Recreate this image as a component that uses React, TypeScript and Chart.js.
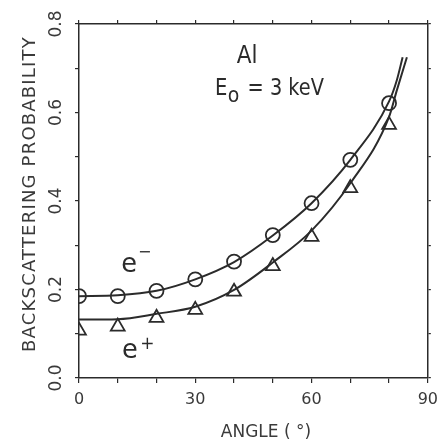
import { useEffect, useRef } from "react";
import { Chart, registerables } from "chart.js";

Chart.register(...registerables);

// Measured backscattering probabilities at each angle of incidence (degrees)
const angles = [0, 10, 20, 30, 40, 50, 60, 70, 80];
const electronMeasured = [0.185, 0.185, 0.197, 0.223, 0.263, 0.323, 0.395, 0.493, 0.621];
const positronMeasured = [0.107, 0.116, 0.136, 0.154, 0.195, 0.253, 0.319, 0.429, 0.572];

// Smooth curves drawn through the measurements
const electronCurveAngles = [0, 10, 20, 30, 40, 50, 60, 70, 80, 82, 83.5];
const electronCurve = [0.185, 0.187, 0.197, 0.223, 0.262, 0.322, 0.395, 0.493, 0.625, 0.673, 0.725];
const positronCurveAngles = [0, 10, 20, 30, 40, 50, 60, 70, 80, 82, 84.6];
const positronCurve = [0.132, 0.133, 0.145, 0.161, 0.199, 0.261, 0.333, 0.44, 0.59, 0.65, 0.725];

const xTickLabels = ["0", "30", "60", "90"];
const yTickLabels = ["0.0", "0.2", "0.4", "0.6", "0.8"];

const INK = "#2b2b2b";
const TEXT = "#3a3a3a";
const FONT = "'DejaVu Sans', 'Noto Sans', sans-serif";

const pairs = (xs: number[], ys: number[]) => xs.map((x, i) => ({ x, y: ys[i] }));

function drawText(
  ctx: CanvasRenderingContext2D,
  text: string,
  px: number,
  py: number,
  size: number,
  opts: { sx?: number; align?: CanvasTextAlign; baseline?: CanvasTextBaseline; spacing?: string; color?: string } = {}
) {
  ctx.save();
  ctx.font = `${size}px ${FONT}`;
  ctx.fillStyle = opts.color ?? INK;
  ctx.textAlign = opts.align ?? "left";
  ctx.textBaseline = opts.baseline ?? "alphabetic";
  if (opts.spacing) (ctx as any).letterSpacing = opts.spacing;
  ctx.translate(px, py);
  ctx.scale(opts.sx ?? 1, 1);
  ctx.fillText(text, 0, 0);
  ctx.restore();
}

// Axis titles and in-plot labels
const labelsPlugin = {
  id: "plotLabels",
  afterDraw(chart: any) {
    const ctx: CanvasRenderingContext2D = chart.ctx;
    const xs = chart.scales.x;
    const ys = chart.scales.y;
    const px = (v: number) => xs.getPixelForValue(v);
    const py = (v: number) => ys.getPixelForValue(v);

    // y-axis title, reading bottom to top
    ctx.save();
    ctx.translate(35, 194);
    ctx.rotate(-Math.PI / 2);
    ctx.font = `18px ${FONT}`;
    ctx.fillStyle = TEXT;
    ctx.textAlign = "center";
    ctx.textBaseline = "alphabetic";
    (ctx as any).letterSpacing = "1.2px";
    ctx.fillText("BACKSCATTERING PROBABILITY", 0, 0);
    ctx.restore();

    // x-axis title
    drawText(ctx, "ANGLE ( °)", 266, 437, 17, { align: "center", color: TEXT });

    // target and beam energy
    drawText(ctx, "Al", px(40.7), py(0.712), 24, { sx: 0.9 });
    drawText(ctx, "E", px(35.1), py(0.6395), 23, { sx: 0.85 });
    drawText(ctx, "o", px(38.4), py(0.624), 21, { sx: 0.9 });
    drawText(ctx, "= 3 keV", px(43.5), py(0.6395), 23, { sx: 0.84 });

    // particle labels
    drawText(ctx, "e", px(10.9), py(0.2395), 27, { sx: 0.95 });
    drawText(ctx, "−", px(15.2), py(0.2825), 16, { baseline: "middle" });
    drawText(ctx, "e", px(11.1), py(0.045), 27, { sx: 0.95 });
    drawText(ctx, "+", px(15.8), py(0.0746), 17, { baseline: "middle" });
  },
};

export default function App() {
  const canvasRef = useRef<HTMLCanvasElement | null>(null);

  useEffect(() => {
    if (!canvasRef.current) return;

    const frame = {
      border: { display: true, color: INK, width: 1.5 },
    };
    const gridTicks = (len: number) => ({
      drawOnChartArea: false,
      drawTicks: true,
      tickLength: len,
      color: INK,
      lineWidth: 1.2,
    });

    const chart = new Chart(canvasRef.current, {
      type: "scatter",
      data: {
        datasets: [
          {
            label: "e- curve",
            type: "line",
            data: pairs(electronCurveAngles, electronCurve),
            borderColor: INK,
            borderWidth: 2,
            pointRadius: 0,
            cubicInterpolationMode: "monotone",
            fill: false,
          },
          {
            label: "e+ curve",
            type: "line",
            data: pairs(positronCurveAngles, positronCurve),
            borderColor: INK,
            borderWidth: 2,
            pointRadius: 0,
            cubicInterpolationMode: "monotone",
            fill: false,
          },
          {
            label: "e-",
            data: pairs(angles, electronMeasured),
            pointStyle: "circle",
            pointRadius: 7,
            borderColor: INK,
            borderWidth: 1.8,
            backgroundColor: "rgba(0,0,0,0)",
            showLine: false,
          },
          {
            label: "e+",
            data: pairs(angles, positronMeasured),
            pointStyle: "triangle",
            pointRadius: 8,
            borderColor: INK,
            borderWidth: 1.8,
            backgroundColor: "rgba(0,0,0,0)",
            showLine: false,
          },
        ],
      },
      options: {
        animation: false,
        responsive: true,
        maintainAspectRatio: false,
        layout: { padding: { top: 24, right: 10, left: 0, bottom: 0 } },
        plugins: {
          legend: { display: false },
          tooltip: { enabled: false },
        },
        scales: {
          x: {
            type: "linear",
            position: "bottom",
            min: 0,
            max: 90,
            ...frame,
            grid: gridTicks(5),
            ticks: {
              stepSize: 10,
              autoSkip: false,
              maxRotation: 0,
              minRotation: 0,
              padding: 7,
              color: TEXT,
              font: { family: FONT, size: 16 },
              callback: (v: any) => (Number(v) % 30 === 0 ? xTickLabels[Number(v) / 30] : ""),
            },
            afterFit: (s: any) => {
              s.height = 69;
            },
          },
          y: {
            type: "linear",
            position: "left",
            min: 0,
            max: 0.8,
            ...frame,
            grid: gridTicks(4),
            ticks: {
              stepSize: 0.1,
              autoSkip: false,
              minRotation: 90,
              maxRotation: 90,
              crossAlign: "center",
              padding: 5,
              color: TEXT,
              font: { family: FONT, size: 17 },
              callback: (v: any) => {
                const k = Math.round(Number(v) * 10);
                return k % 2 === 0 ? yTickLabels[k / 2] : "";
              },
            },
            afterFit: (s: any) => {
              s.width = 79;
            },
          },
          xTop: {
            type: "linear",
            position: "top",
            min: 0,
            max: 90,
            ...frame,
            grid: gridTicks(4),
            ticks: { stepSize: 10, display: false },
            afterFit: (s: any) => {
              s.height = 0;
            },
          },
          yRight: {
            type: "linear",
            position: "right",
            min: 0,
            max: 0.8,
            ...frame,
            grid: gridTicks(3),
            ticks: { stepSize: 0.1, display: false },
            afterFit: (s: any) => {
              s.width = 0;
            },
          },
        },
      },
      plugins: [labelsPlugin],
    } as any);

    return () => chart.destroy();
  }, []);

  return (
    <div style={{ position: "absolute", left: 0, top: 0, width: 445, height: 447, background: "#fff" }}>
      <canvas ref={canvasRef} />
    </div>
  );
}
